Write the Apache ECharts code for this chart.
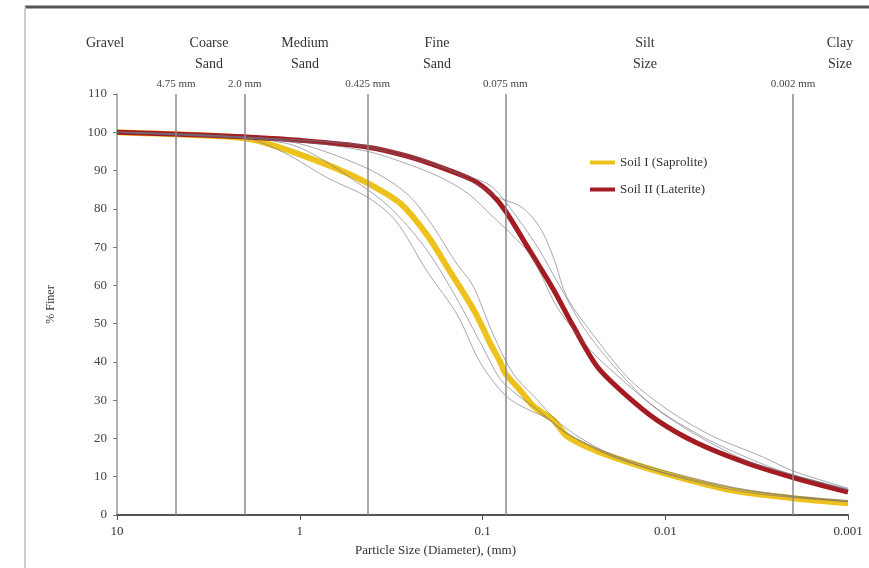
<!DOCTYPE html>
<html>
<head>
<meta charset="utf-8">
<script src="https://cdn.jsdelivr.net/npm/echarts@6/dist/echarts.min.js"></script>
<style>
  html, body { margin: 0; padding: 0; background: #fff; }
  #chart { width: 869px; height: 568px; }
</style>
</head>
<body>
<div id="chart"></div>
<script>
// particle size (mm) vs % finer
const soil1Size = [10, 3.5, 2.0, 1.4, 0.91, 0.6, 0.425, 0.283, 0.2, 0.15, 0.11, 0.09, 0.08, 0.075, 0.062, 0.052, 0.041, 0.0345, 0.026, 0.0193, 0.0103, 0.0044, 0.002, 0.001]
const soil1Finer = [100, 99.2, 98.4, 96.6, 93.5, 90.1, 86.7, 81.5, 73, 63.5, 53, 44.5, 40, 37, 32.5, 28.2, 24.8, 20.6, 17.5, 15.1, 11, 6.5, 4.4, 3.1]

const soil2Size = [10, 3.5, 2.0, 1.0, 0.425, 0.26, 0.17, 0.113, 0.09, 0.075, 0.055, 0.041, 0.032, 0.0236, 0.017, 0.0111, 0.0067, 0.0036, 0.002, 0.001]
const soil2Finer = [100, 99.3, 98.8, 97.9, 96.1, 93.8, 90.9, 87.5, 84, 79.5, 69, 59, 49.5, 38.8, 32, 24.8, 18.8, 13.6, 9.8, 6.0]

// individual samples (thin grey)
const s1aSize = [10, 2.0, 1.2, 0.7, 0.425, 0.3, 0.2, 0.138, 0.107, 0.091, 0.074, 0.06, 0.044, 0.035, 0.02, 0.01, 0.004, 0.002, 0.001]
const s1aFiner = [100, 98.5, 94.5, 88, 83, 77, 63.5, 52.5, 41.3, 36, 31, 28.2, 25.2, 21.5, 15.8, 10.8, 6.3, 4.6, 3.5]
const s1bSize = [10, 2.0, 1.0, 0.425, 0.26, 0.19, 0.14, 0.113, 0.088, 0.068, 0.05, 0.04, 0.03, 0.02, 0.01, 0.004, 0.002, 0.001]
const s1bFiner = [100, 98.8, 97, 90.5, 84, 76, 66, 60, 47.5, 37, 30, 25, 20.5, 16, 11.5, 7, 5, 3.8]
const s1cSize = [10, 2.0, 1.0, 0.425, 0.3, 0.2, 0.14, 0.1, 0.08, 0.065, 0.05, 0.035, 0.02, 0.01, 0.004, 0.002, 0.001]
const s1cFiner = [100, 98.6, 96, 85, 79, 69, 57, 44, 35.5, 31.5, 27.5, 21.5, 15.5, 11, 6.8, 4.8, 3.5]

const s2aSize = [10, 1.0, 0.425, 0.19, 0.11, 0.082, 0.064, 0.055, 0.047, 0.04, 0.0346, 0.0236, 0.0155, 0.0091, 0.0054, 0.0029, 0.002, 0.001]
const s2aFiner = [100, 98, 96.5, 92.2, 86.7, 83, 81, 78.5, 74, 66, 57, 45.7, 35.2, 26.6, 20.4, 15.1, 11.5, 7]
const s2bSize = [10, 1.0, 0.425, 0.25, 0.171, 0.12, 0.088, 0.065, 0.053, 0.039, 0.0257, 0.0171, 0.0104, 0.006, 0.0035, 0.002, 0.001]
const s2bFiner = [100, 97.5, 95, 91.5, 88.3, 84, 78, 72, 67, 54.3, 43.1, 35.2, 26.6, 19.5, 14, 10.5, 6.5]
const s2cSize = [10, 1.0, 0.425, 0.2, 0.12, 0.09, 0.07, 0.05, 0.038, 0.028, 0.02, 0.012, 0.006, 0.003, 0.002, 0.001]
const s2cFiner = [100, 98, 96, 92, 88.5, 86, 80, 70, 60, 49, 40, 29, 20, 13.5, 10.5, 6.8]

// size class boundaries
const boundarySize = [4.75, 2.0, 0.425, 0.075, 0.002]
const boundaryLabel = ['4.75 mm', '2.0 mm', '0.425 mm', '0.075 mm', '0.002 mm']

const zoneNames = ['Gravel', 'Coarse\nSand', 'Medium\nSand', 'Fine\nSand', 'Silt\nSize', 'Clay\nSize']
const zoneX = [105, 209, 305, 437, 645, 840]

const FONT = 'Liberation Serif'
const YELLOW = '#eec21c'
const RED = '#a51b22'
const GREY = 'rgba(110,110,125,0.6)'
const Y_MIN = 0
const Y_MAX = 110

function pairs(xs, ys) {
  return xs.map((x, i) => [x, ys[i]])
}

function sampleSeries(xs, ys) {
  return {
    type: 'line',
    data: pairs(xs, ys),
    smooth: 0.3,
    showSymbol: false,
    silent: true,
    z: 4,
    lineStyle: { color: GREY, width: 1 },
  }
}

const chart = echarts.init(document.getElementById('chart'))

chart.setOption({
  animation: false,
  backgroundColor: '#fff',
  grid: { left: 117, right: 21, top: 94, bottom: 53 },
  legend: {
    data: ['Soil I (Saprolite)', 'Soil II (Laterite)'],
    orient: 'vertical',
    left: 585,
    top: 151,
    icon: 'rect',
    itemWidth: 25,
    itemHeight: 4,
    itemGap: 14,
    textStyle: { fontFamily: FONT, fontSize: 13, color: '#333' },
  },
  xAxis: {
    type: 'log',
    logBase: 10,
    min: 0.001,
    max: 10,
    inverse: true,
    name: 'Particle Size (Diameter), (mm)',
    nameLocation: 'middle',
    nameGap: 29,
    nameTextStyle: { fontFamily: FONT, fontSize: 13, color: '#333', padding: [0, 94, 0, 0] },
    axisLine: { lineStyle: { color: '#555', width: 2 } },
    axisTick: { show: true, length: 5, lineStyle: { color: '#555' } },
    axisLabel: {
      fontFamily: FONT,
      fontSize: 13,
      color: '#333',
      margin: 10,
      formatter: (v) => String(+v.toPrecision(6)),
    },
    splitLine: { show: false },
    minorTick: { show: false },
  },
  yAxis: {
    type: 'value',
    min: Y_MIN,
    max: Y_MAX,
    interval: 10,
    name: '% Finer',
    nameLocation: 'middle',
    nameGap: 60,
    nameTextStyle: { fontFamily: FONT, fontSize: 12, color: '#333' },
    axisLine: { show: true, lineStyle: { color: '#999', width: 1.5 } },
    axisTick: { show: true, length: 4, lineStyle: { color: '#777' } },
    axisLabel: { fontFamily: FONT, fontSize: 13, color: '#444', margin: 10 },
    splitLine: { show: false },
  },
  graphic: [
    { type: 'line', shape: { x1: 25, y1: 7, x2: 869, y2: 7 }, style: { stroke: '#555', lineWidth: 3 } },
    { type: 'line', shape: { x1: 25, y1: 7, x2: 25, y2: 568 }, style: { stroke: '#ccc', lineWidth: 2 } },
    ...zoneNames.map((t, i) => ({
      type: 'text',
      x: zoneX[i],
      y: 33,
      style: {
        text: t,
        fontFamily: FONT,
        fontSize: 14,
        lineHeight: 21,
        fill: '#333',
        align: 'center',
      },
    })),
  ],
  series: [
    {
      name: 'Soil I (Saprolite)',
      type: 'line',
      data: pairs(soil1Size, soil1Finer),
      smooth: 0.3,
      showSymbol: false,
      z: 2,
      color: YELLOW,
      lineStyle: { color: YELLOW, width: 6 },
      markLine: {
        silent: true,
        symbol: 'none',
        animation: false,
        lineStyle: { color: '#8a8a8a', width: 1.5, type: 'solid' },
        label: {
          position: 'end',
          distance: 4,
          fontFamily: FONT,
          fontSize: 11,
          color: '#444',
        },
        data: boundarySize.map((v, i) => [
          { coord: [v, Y_MIN] },
          { coord: [v, Y_MAX], label: { formatter: boundaryLabel[i] } },
        ]),
      },
    },
    {
      name: 'Soil II (Laterite)',
      type: 'line',
      data: pairs(soil2Size, soil2Finer),
      smooth: 0.3,
      showSymbol: false,
      z: 3,
      color: RED,
      lineStyle: { color: RED, width: 5 },
    },
    sampleSeries(s1aSize, s1aFiner),
    sampleSeries(s1bSize, s1bFiner),
    sampleSeries(s1cSize, s1cFiner),
    sampleSeries(s2aSize, s2aFiner),
    sampleSeries(s2bSize, s2bFiner),
    sampleSeries(s2cSize, s2cFiner),
  ],
})
</script>
</body>
</html>
